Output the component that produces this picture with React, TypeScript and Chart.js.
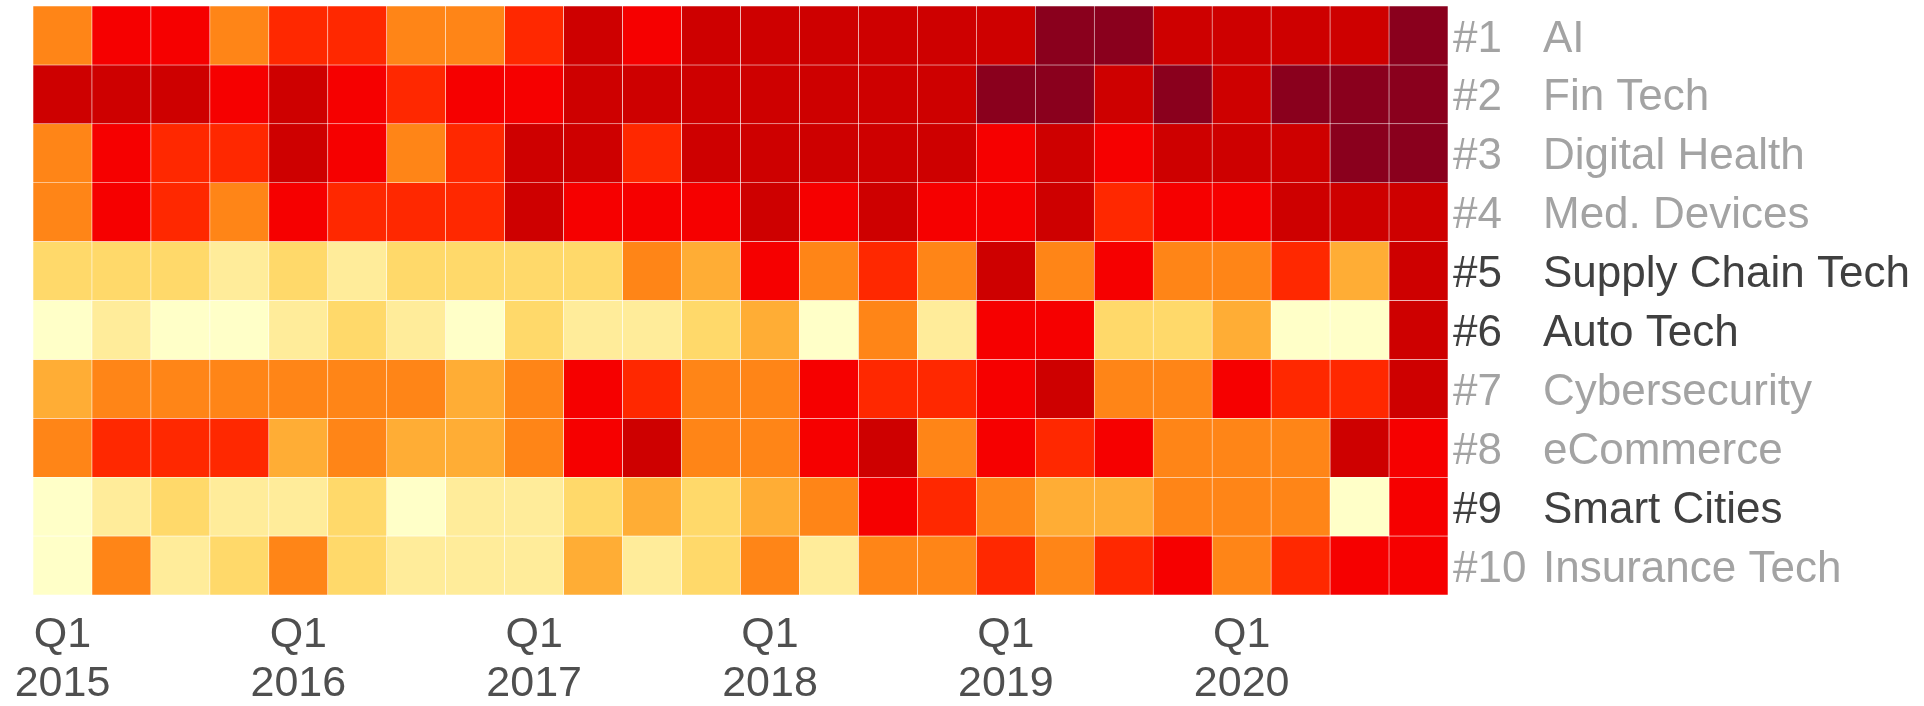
import React, { useEffect, useRef } from "react";
import { Chart, registerables } from "chart.js";

Chart.register(...registerables);

// ---- Data ----
const quarters = [
  "Q1 2015", "Q2 2015", "Q3 2015", "Q4 2015",
  "Q1 2016", "Q2 2016", "Q3 2016", "Q4 2016",
  "Q1 2017", "Q2 2017", "Q3 2017", "Q4 2017",
  "Q1 2018", "Q2 2018", "Q3 2018", "Q4 2018",
  "Q1 2019", "Q2 2019", "Q3 2019", "Q4 2019",
  "Q1 2020", "Q2 2020", "Q3 2020", "Q4 2020",
];

const ranks = ["#1", "#2", "#3", "#4", "#5", "#6", "#7", "#8", "#9", "#10"];
const sectors = [
  "AI", "Fin Tech", "Digital Health", "Med. Devices", "Supply Chain Tech",
  "Auto Tech", "Cybersecurity", "eCommerce", "Smart Cities", "Insurance Tech",
];
const highlighted = [false, false, false, false, true, true, false, false, true, false];

// intensity level (1 = lowest, 9 = highest) per quarter
const ai = [5, 7, 7, 5, 6, 6, 5, 5, 6, 8, 7, 8, 8, 8, 8, 8, 8, 9, 9, 8, 8, 8, 8, 9];
const finTech = [8, 8, 8, 7, 8, 7, 6, 7, 7, 8, 8, 8, 8, 8, 8, 8, 9, 9, 8, 9, 8, 9, 9, 9];
const digitalHealth = [5, 7, 6, 6, 8, 7, 5, 6, 8, 8, 6, 8, 8, 8, 8, 8, 7, 8, 7, 8, 8, 8, 9, 9];
const medDevices = [5, 7, 6, 5, 7, 6, 6, 6, 8, 7, 7, 7, 8, 7, 8, 7, 7, 8, 6, 7, 7, 8, 8, 8];
const supplyChainTech = [3, 3, 3, 2, 3, 2, 3, 3, 3, 3, 5, 4, 7, 5, 6, 5, 8, 5, 7, 5, 5, 6, 4, 8];
const autoTech = [1, 2, 1, 1, 2, 3, 2, 1, 3, 2, 2, 3, 4, 1, 5, 2, 7, 7, 3, 3, 4, 1, 1, 8];
const cybersecurity = [4, 5, 5, 5, 5, 5, 5, 4, 5, 7, 6, 5, 5, 7, 6, 6, 7, 8, 5, 5, 7, 6, 6, 8];
const eCommerce = [5, 6, 6, 6, 4, 5, 4, 4, 5, 7, 8, 5, 5, 7, 8, 5, 7, 6, 7, 5, 5, 5, 8, 7];
const smartCities = [1, 2, 3, 2, 2, 3, 1, 2, 2, 3, 4, 3, 4, 5, 7, 6, 5, 4, 4, 5, 5, 5, 1, 7];
const insuranceTech = [1, 5, 2, 3, 5, 3, 2, 2, 2, 4, 2, 3, 5, 2, 5, 5, 6, 5, 6, 7, 5, 6, 7, 7];

const rows = [
  ai, finTech, digitalHealth, medDevices, supplyChainTech,
  autoTech, cybersecurity, eCommerce, smartCities, insuranceTech,
];

// ---- Styles ----
const palette = [
  "#FFFFC8", "#FFEC9A", "#FFD96A", "#FFAD35", "#FF8517",
  "#FF2800", "#F60000", "#CE0000", "#8A001D",
];
const FONT = "'Liberation Sans', Arial, Helvetica, sans-serif";
const GREY = "#A3A3A3";
const DARK = "#404040";

export default function App() {
  const ref = useRef<HTMLCanvasElement | null>(null);

  useEffect(() => {
    if (!ref.current) return;
    const datasets = rows.map((vals, r) => ({
      label: sectors[r],
      data: vals.map(() => [r, r + 1]),
      backgroundColor: vals.map((v) => palette[v - 1]),
      borderColor: "rgba(255,255,255,0.55)",
      borderWidth: 0.6,
      borderSkipped: false,
      barPercentage: 1,
      categoryPercentage: 1,
      grouped: false,
      xAxisID: "x",
      yAxisID: "y",
    }));

    const rowTicks = (scale: any) => {
      scale.ticks = rows.map((_, i) => ({ value: i + 0.5 }));
    };
    const fitWidth = (w: number) => (s: any) => {
      s.width = w;
      s.paddingTop = 0;
      s.paddingBottom = 0;
    };

    const chart = new Chart(ref.current, {
      type: "bar",
      data: { labels: quarters, datasets: datasets as any },
      options: {
        responsive: false,
        animation: false,
        layout: { padding: { top: 6, left: 33, right: 0, bottom: 0 } },
        plugins: { legend: { display: false }, tooltip: { enabled: false } },
        scales: {
          x: {
            type: "category",
            offset: true,
            grid: { display: false, drawTicks: false },
            border: { display: false },
            ticks: {
              autoSkip: false,
              maxRotation: 0,
              minRotation: 0,
              padding: 16,
              color: "#4F4F4F",
              font: { family: FONT, size: 43, lineHeight: 1.14 },
              callback: (_v: any, i: number) =>
                quarters[i].startsWith("Q1") ? quarters[i].split(" ") : "",
            },
            afterFit: (s: any) => {
              s.height = 111;
              s.paddingLeft = 0;
              s.paddingRight = 0;
            },
          },
          y: {
            type: "linear",
            display: false,
            min: 0,
            max: 10,
            reverse: true,
          },
          yRank: {
            type: "linear",
            position: "right",
            min: 0,
            max: 10,
            reverse: true,
            grid: { display: false, drawTicks: false },
            border: { display: false },
            afterBuildTicks: rowTicks,
            ticks: {
              padding: 5,
              labelOffset: 4,
              crossAlign: "near",
              font: { family: FONT, size: 44 },
              color: (ctx: any) => (highlighted[ctx.index] ? DARK : GREY),
              callback: (_v: any, i: number) => ranks[i],
            },
            afterFit: fitWidth(90),
          },
          yName: {
            type: "linear",
            position: "right",
            min: 0,
            max: 10,
            reverse: true,
            grid: { display: false, drawTicks: false },
            border: { display: false },
            afterBuildTicks: rowTicks,
            ticks: {
              padding: 5,
              labelOffset: 4,
              crossAlign: "near",
              font: { family: FONT, size: 44 },
              color: (ctx: any) => (highlighted[ctx.index] ? DARK : GREY),
              callback: (_v: any, i: number) => sectors[i],
            },
            afterFit: fitWidth(386),
          },
        },
      } as any,
    });
    return () => chart.destroy();
  }, []);

  return (
    <div style={{ position: "absolute", left: 0, top: 0, width: 1924, height: 706, background: "#fff" }}>
      <canvas ref={ref} width={1924} height={706} style={{ display: "block" }} />
    </div>
  );
}
